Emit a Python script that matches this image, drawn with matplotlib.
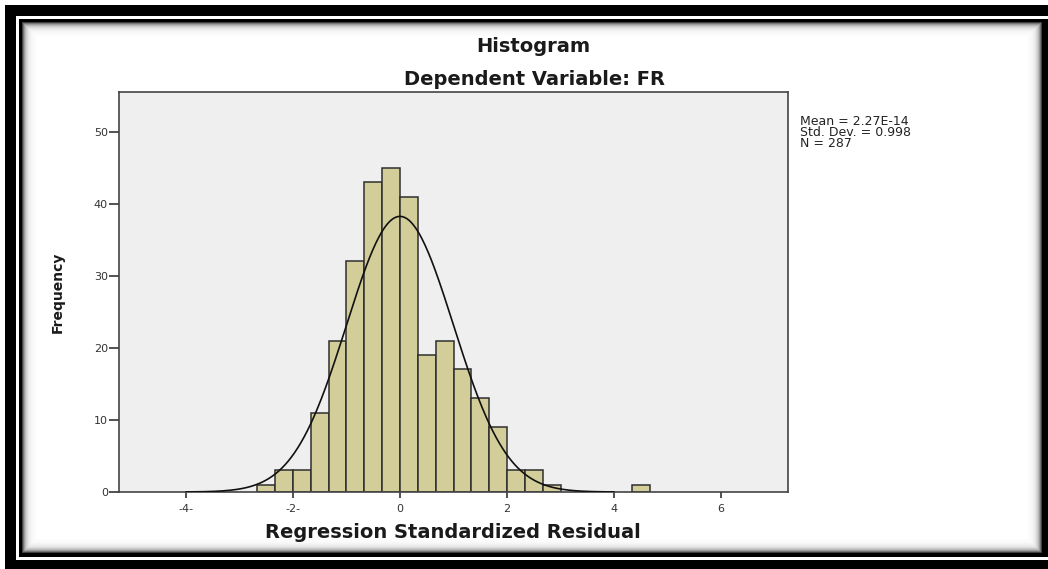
import numpy as np
import matplotlib
matplotlib.use("Agg")
import matplotlib.pyplot as plt

# ---- data ----
bin_start = -8 / 3
bin_width = 1 / 3
counts = [1, 3, 3, 11, 21, 32, 43, 45, 41, 19, 21, 17, 13, 9, 3, 3, 1, 0, 0, 0, 0, 1]
x_ticks = [-4, -2, 0, 2, 4, 6]
x_tick_labels = ["-4-", "-2-", "0", "2", "4", "6"]
y_ticks = [0, 10, 20, 30, 40, 50]
mean_val = 2.27e-14
sd_val = 0.998
n_val = 287
title = "Histogram"
subtitle = "Dependent Variable: FR"
xlabel = "Regression Standardized Residual"
ylabel = "Frequency"
stats_lines = ["Mean = 2.27E-14", "Std. Dev. = 0.998", "N = 287"]

W, H = 1048, 569
fig = plt.figure(figsize=(W / 100, H / 100), dpi=100)
fig.patch.set_facecolor("white")

# ---- frame decoration (pixel image) ----
img = np.ones((H, W, 3))
for d in range(0, 14):
    shade = 1 - 0.75 * np.exp(-d / 3.0)
    img[22 + d:553 - d, 22 + d:1042 - d] = shade
img[36:539, 36:1028] = 1.0
# inner black line
img[19:22, 19:] = 0
img[19:557, 19:22] = 0
img[553:557, 19:] = 0
img[19:557, 1042:] = 0
# outer black band
img[5:, 5:16] = 0
img[5:16, 5:] = 0
img[560:, 5:] = 0
fig.figimage(img, 0, 0, zorder=0)

def fx(px):
    return px / W

def fy(py):
    return 1 - py / H

# ---- axes ----
ax_l, ax_r, ax_t, ax_b = 119, 788, 92, 492
ax = fig.add_axes([fx(ax_l), fy(ax_b), (ax_r - ax_l) / W, (ax_b - ax_t) / H], zorder=2)
ax.set_facecolor("#EFEFEF")

lefts = [bin_start + i * bin_width for i in range(len(counts))]
bl = [l for l, c in zip(lefts, counts) if c > 0]
bc = [c for c in counts if c > 0]
ax.bar(bl, bc, width=bin_width, align="edge", color="#D3CE99",
       edgecolor="#2e2e2e", linewidth=1.1, zorder=2)

xs = np.linspace(mean_val - 4 * sd_val, mean_val + 4 * sd_val, 400)
ys = n_val * bin_width * np.exp(-0.5 * ((xs - mean_val) / sd_val) ** 2) / (sd_val * np.sqrt(2 * np.pi))
ax.plot(xs, ys, color="#111111", linewidth=1.2, zorder=3)

ax.set_xlim(-5.25, 7.25)
ax.set_ylim(0, 55.5)
ax.set_xticks(x_ticks)
ax.set_xticklabels(x_tick_labels)
ax.set_yticks(y_ticks)
ax.tick_params(axis="x", length=4.5, width=1.2, pad=4, labelsize=8,
               colors="#333333", direction="out")
ax.tick_params(axis="y", length=7, width=1.2, pad=1, labelsize=8,
               colors="#333333", direction="out")
for sp in ax.spines.values():
    sp.set_color("#444444")
    sp.set_linewidth(1.2)

# ---- texts ----
fam = "DejaVu Sans"
fig.text(fx(533), fy(52), title, ha="center", va="baseline",
         fontsize=14, fontweight="bold", family=fam, color="#1a1a1a", zorder=5)
fig.text(fx(534), fy(85), subtitle, ha="center", va="baseline",
         fontsize=14, fontweight="bold", family=fam, color="#1a1a1a", zorder=5)
fig.text(fx(453), fy(538), xlabel, ha="center", va="baseline",
         fontsize=14, fontweight="bold", family=fam, color="#1a1a1a", zorder=5)
fig.text(fx(58), fy(292), ylabel, ha="center", va="center", rotation=90,
         fontsize=10, fontweight="bold", family=fam, color="#1a1a1a", zorder=5)
for i, line in enumerate(stats_lines):
    fig.text(fx(800), fy(125 + 11 * i), line, ha="left", va="baseline",
             fontsize=9, family=fam, color="#222222", zorder=5)

fig.savefig("out.png", dpi=100)
